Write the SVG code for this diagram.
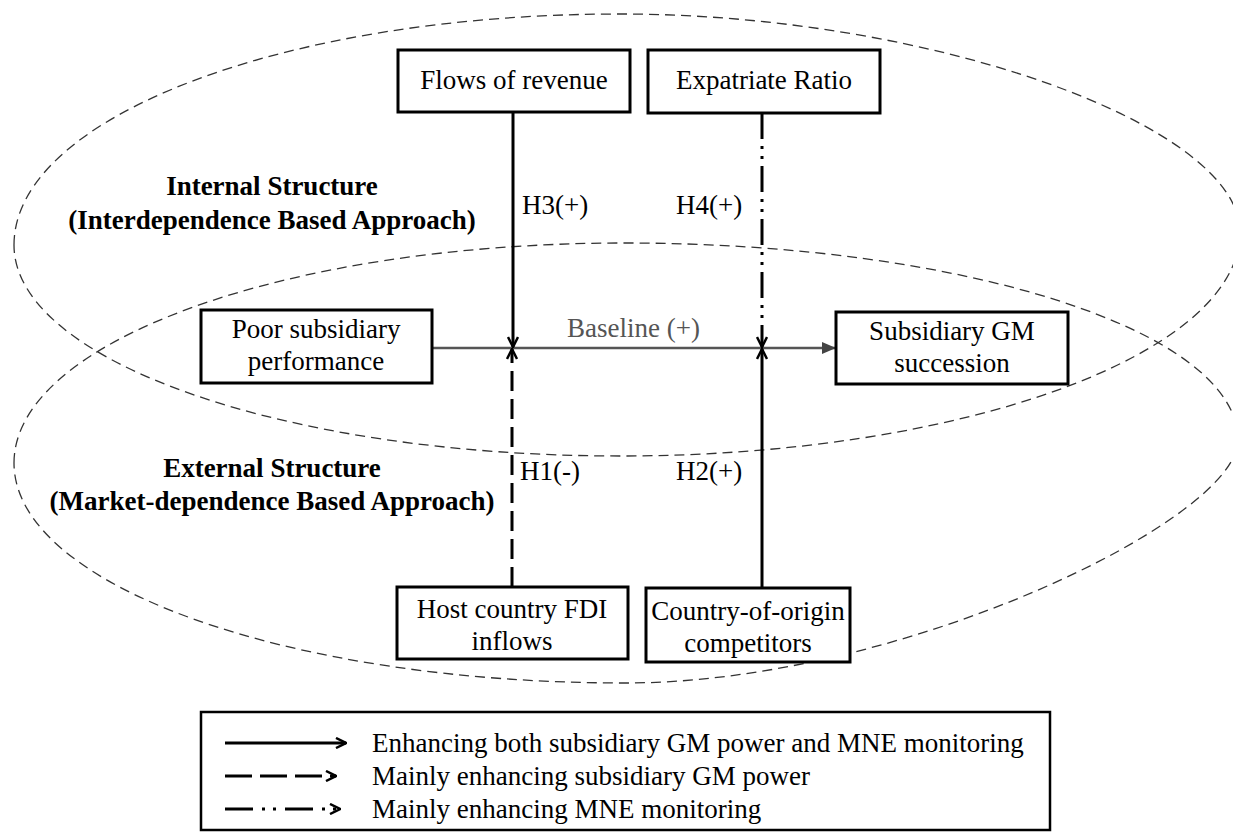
<svg xmlns="http://www.w3.org/2000/svg" width="1233" height="832" viewBox="0 0 1233 832">
<style>
text{font-family:"Liberation Serif","Times New Roman",serif;font-size:27px;fill:#000}
.b{font-weight:bold}
.c{text-anchor:middle}
.box{fill:#fff;stroke:#000;stroke-width:3}
.ell{fill:none;stroke:#333;stroke-width:1.3;stroke-dasharray:10 6}
.h{fill:none;stroke:#000;stroke-width:3}
.gray{fill:#555}
</style>
<defs>
<marker id="chev" viewBox="0 0 12 12" refX="11" refY="6" markerWidth="12" markerHeight="12" orient="auto" markerUnits="userSpaceOnUse">
<path d="M1,1 L11,6 L1,11" fill="none" stroke="#000" stroke-width="2.5"/>
</marker>
<marker id="tri" viewBox="0 0 14 12" refX="14" refY="6" markerWidth="14" markerHeight="12" orient="auto" markerUnits="userSpaceOnUse">
<path d="M0,0 L14,6 L0,12 z" fill="#444"/>
</marker>
</defs>

<g id="regions">
<path class="ell" d="M14,245 C14,117 285,14 620,14 C930,14 1240,125 1240,232 C1240,355 960,456 620,456 C285,456 14,361 14,245 Z"/>
<path class="ell" d="M14,463 C14,341 287,243 625,243 C963,243 1238,331 1238,440 C1238,520 900,683 625,683 C287,683 14,585 14,463 Z"/>
<text class="b c" x="272" y="195">Internal Structure</text>
<text class="b c" x="272" y="229">(Interdependence Based Approach)</text>
<text class="b c" x="272" y="477">External Structure</text>
<text class="b c" x="272" y="510">(Market-dependence Based Approach)</text>
</g>

<g id="connectors">
<line x1="432" y1="348" x2="836" y2="348" stroke="#555" stroke-width="2.5" marker-end="url(#tri)"/>
<text class="gray" x="567" y="337">Baseline (+)</text>
<line class="h" x1="513" y1="112" x2="513" y2="347" marker-end="url(#chev)"/>
<line class="h" x1="762" y1="113" x2="762" y2="347" stroke-dasharray="26 7 3 7 3 7" marker-end="url(#chev)"/>
<line class="h" x1="512" y1="587" x2="512" y2="349" stroke-dasharray="20 8" marker-end="url(#chev)"/>
<line class="h" x1="762" y1="588" x2="762" y2="349" marker-end="url(#chev)"/>
<text x="522" y="214">H3(+)</text>
<text x="676" y="214">H4(+)</text>
<text x="520" y="480">H1(-)</text>
<text x="676" y="480">H2(+)</text>
</g>

<g id="flows">
<rect class="box" x="398" y="50" width="232" height="62"/>
<text class="c" x="514" y="89">Flows of revenue</text>
</g>
<g id="expatriate">
<rect class="box" x="648" y="50" width="232" height="63"/>
<text class="c" x="764" y="89">Expatriate Ratio</text>
</g>
<g id="poor">
<rect class="box" x="201" y="310" width="231" height="73"/>
<text class="c" x="316" y="338">Poor subsidiary</text>
<text class="c" x="316" y="370">performance</text>
</g>
<g id="succession">
<rect class="box" x="836" y="312" width="232" height="72"/>
<text class="c" x="952" y="340">Subsidiary GM</text>
<text class="c" x="952" y="372">succession</text>
</g>
<g id="fdi">
<rect class="box" x="397" y="587" width="231" height="72"/>
<text class="c" x="512" y="618">Host country FDI</text>
<text class="c" x="512" y="650">inflows</text>
</g>
<g id="competitors">
<rect class="box" x="646" y="588" width="204" height="74"/>
<text class="c" x="748" y="620">Country-of-origin</text>
<text class="c" x="748" y="652">competitors</text>
</g>

<g id="legend">
<rect x="201" y="712" width="849" height="118" fill="#fff" stroke="#000" stroke-width="2.5"/>
<line class="h" x1="225" y1="743" x2="346" y2="743" marker-end="url(#chev)"/>
<line class="h" x1="225" y1="776" x2="336" y2="776" stroke-dasharray="27 8" marker-end="url(#chev)"/>
<line class="h" x1="225" y1="809" x2="340" y2="809" stroke-dasharray="28 9 3 8 3 9" marker-end="url(#chev)"/>
<text x="372" y="752">Enhancing both subsidiary GM power and MNE monitoring</text>
<text x="372" y="785">Mainly enhancing subsidiary GM power</text>
<text x="372" y="818">Mainly enhancing MNE monitoring</text>
</g>
</svg>
